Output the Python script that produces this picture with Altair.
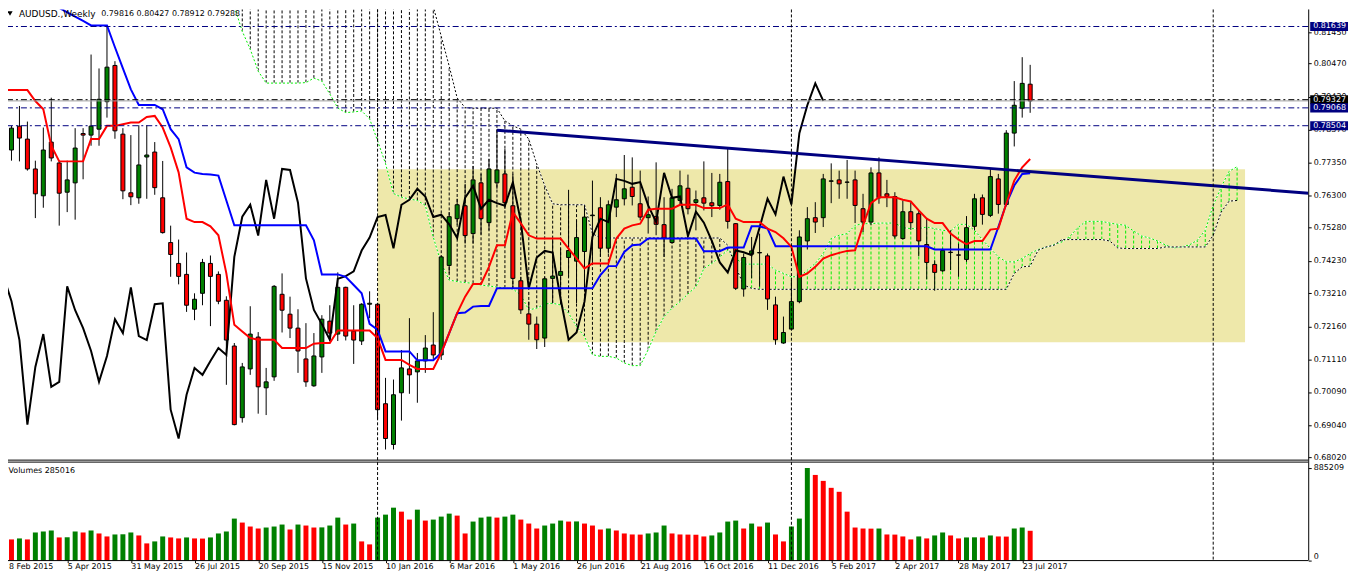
import altair as alt
import pandas as pd
import numpy as np

# ---------------- data (weekly AUDUSD, bar index 0 = 8 Feb 2015) ----------------
opens = [0.77493, 0.77736, 0.78490, 0.78081, 0.77138, 0.76289, 0.77987, 0.77327, 0.76403, 0.76698,
         0.78257, 0.78207, 0.78396, 0.79263, 0.80408, 0.78238, 0.76384, 0.76226, 0.77515, 0.77672,
         0.76226, 0.74812, 0.74152, 0.73806, 0.72705, 0.73208, 0.74152, 0.73806, 0.72988, 0.71542,
         0.69279, 0.70819, 0.71825, 0.70222, 0.70568, 0.73177, 0.72548, 0.72108, 0.71134, 0.70285,
         0.71197, 0.72328, 0.71920, 0.73397, 0.72014, 0.71700, 0.72863, 0.72863, 0.69719, 0.68430,
         0.70065, 0.70819, 0.70725, 0.71071, 0.71574, 0.71260, 0.74089, 0.75566, 0.75975, 0.75095,
         0.76698, 0.75441, 0.76698, 0.76981, 0.75975, 0.73605, 0.72558, 0.72234, 0.71794, 0.73680,
         0.73775, 0.74340, 0.74224, 0.74529, 0.75661, 0.75912, 0.74633, 0.75931, 0.76195, 0.76560,
         0.76038, 0.75598, 0.75639, 0.75378, 0.74812, 0.76142, 0.76528, 0.76079, 0.76226, 0.76069,
         0.75985, 0.76739, 0.75409, 0.73344, 0.74444, 0.74485, 0.74391, 0.72841, 0.71637, 0.72077,
         0.72945, 0.74862, 0.75598, 0.75598, 0.76748, 0.76792, 0.76717, 0.76792, 0.75881, 0.75459,
         0.77012, 0.76352, 0.76267, 0.74938, 0.75786, 0.75723, 0.74749, 0.74120, 0.73919, 0.74497,
         0.74422, 0.74278, 0.75324, 0.76226, 0.75670, 0.76824, 0.76016, 0.78270, 0.79056, 0.79816]
highs = [0.78446, 0.78499, 0.79128, 0.78635, 0.77399, 0.78446, 0.79389, 0.77399, 0.77399, 0.78427,
         0.78427, 0.80753, 0.80313, 0.81643, 0.80543, 0.78427, 0.78207, 0.78521, 0.78521, 0.77987,
         0.77390, 0.75346, 0.74906, 0.74497, 0.73208, 0.74296, 0.74403, 0.73900, 0.73114, 0.71637,
         0.71008, 0.72800, 0.71982, 0.70850, 0.73469, 0.73837, 0.73102, 0.72705, 0.72265, 0.71951,
         0.72517, 0.72831, 0.73869, 0.73416, 0.72831, 0.72894, 0.73271, 0.72904, 0.70536, 0.70483,
         0.71417, 0.72423, 0.71322, 0.71888, 0.72611, 0.74403, 0.75774, 0.76195, 0.76667, 0.77232,
         0.76981, 0.77453, 0.78396, 0.77767, 0.76981, 0.73730, 0.72945, 0.72473, 0.73730, 0.74938,
         0.74623, 0.76478, 0.75513, 0.75985, 0.76770, 0.76245, 0.76142, 0.76981, 0.77578, 0.77503,
         0.77085, 0.76267, 0.77346, 0.76245, 0.76510, 0.77085, 0.76959, 0.76456, 0.77377, 0.77012,
         0.76981, 0.77786, 0.75428, 0.74466, 0.74988, 0.75095, 0.74466, 0.73102, 0.72473, 0.73627,
         0.75199, 0.75931, 0.76088, 0.76981, 0.77314, 0.77085, 0.77421, 0.77085, 0.76352, 0.77188,
         0.77503, 0.76792, 0.76403, 0.76142, 0.76088, 0.75827, 0.75566, 0.74253, 0.74623, 0.75199,
         0.74780, 0.75648, 0.76352, 0.76330, 0.77138, 0.76981, 0.78364, 0.79914, 0.80669, 0.80427]
lows = [0.76456, 0.77399, 0.77377, 0.77085, 0.75585, 0.75912, 0.77377, 0.75346, 0.75774, 0.75535,
        0.76811, 0.77871, 0.77871, 0.78760, 0.78091, 0.76182, 0.75994, 0.76038, 0.76195, 0.76321,
        0.75095, 0.73730, 0.73491, 0.72621, 0.72360, 0.72831, 0.72171, 0.72863, 0.70316, 0.69037,
        0.69122, 0.70631, 0.69405, 0.69361, 0.70442, 0.71970, 0.71794, 0.70694, 0.70253, 0.70253,
        0.70694, 0.71700, 0.71700, 0.71718, 0.70977, 0.71574, 0.72423, 0.69226, 0.68273, 0.68273,
        0.69185, 0.70033, 0.69750, 0.70694, 0.71134, 0.71102, 0.73837, 0.75378, 0.74780, 0.74780,
        0.75063, 0.75198, 0.76510, 0.75881, 0.73366, 0.72558, 0.71740, 0.71448, 0.71511, 0.72894,
        0.72894, 0.73730, 0.72894, 0.73312, 0.74152, 0.74359, 0.74466, 0.75617, 0.75985, 0.75985,
        0.75513, 0.75095, 0.75042, 0.74359, 0.74780, 0.75985, 0.75702, 0.75198, 0.75827, 0.75617,
        0.75849, 0.75252, 0.73312, 0.73102, 0.73680, 0.73416, 0.72684, 0.71583, 0.71615, 0.72055,
        0.72894, 0.74592, 0.75114, 0.75302, 0.76057, 0.76195, 0.76195, 0.75428, 0.75145, 0.75356,
        0.76038, 0.75931, 0.74938, 0.74906, 0.75220, 0.74381, 0.73649, 0.73290, 0.73888, 0.73941,
        0.73730, 0.74202, 0.75199, 0.75378, 0.75617, 0.75724, 0.75963, 0.77849, 0.78760, 0.78912]
closes = [0.77713, 0.78427, 0.78113, 0.77138, 0.76352, 0.77736, 0.77484, 0.76371, 0.76792, 0.77798,
          0.78207, 0.78490, 0.79339, 0.80354, 0.78342, 0.76446, 0.76258, 0.77264, 0.77578, 0.76547,
          0.75126, 0.74435, 0.73743, 0.72831, 0.73020, 0.74183, 0.73743, 0.72957, 0.71731, 0.69059,
          0.70882, 0.71919, 0.70253, 0.70410, 0.73428, 0.72674, 0.72108, 0.71385, 0.70410, 0.71228,
          0.72391, 0.71951, 0.73397, 0.71857, 0.71731, 0.72863, 0.72894, 0.69530, 0.68619, 0.70002,
          0.70851, 0.70631, 0.71071, 0.71479, 0.71260, 0.74359, 0.75629, 0.76006, 0.75032, 0.76792,
          0.75566, 0.77138, 0.77107, 0.76069, 0.73680, 0.72684, 0.72234, 0.71740, 0.73667, 0.73752,
          0.73900, 0.74560, 0.74969, 0.75617, 0.75680, 0.74633, 0.76006, 0.76164, 0.76510, 0.76267,
          0.75617, 0.75692, 0.75387, 0.74956, 0.76226, 0.76604, 0.75881, 0.76164, 0.76057, 0.75975,
          0.76717, 0.75481, 0.73366, 0.74340, 0.74548, 0.74497, 0.73029, 0.71740, 0.71970, 0.72945,
          0.74988, 0.75566, 0.75459, 0.76824, 0.76761, 0.76667, 0.76723, 0.75985, 0.75459, 0.77012,
          0.76226, 0.76267, 0.75019, 0.75786, 0.75441, 0.74862, 0.74183, 0.73869, 0.74560, 0.74507,
          0.74413, 0.75283, 0.76195, 0.75702, 0.76896, 0.76016, 0.78270, 0.79150, 0.79842, 0.79288]
volumes = [221400, 202400, 211900, 202400, 268800, 278300, 287800, 221400, 223000, 278300,
           268800, 287800, 259300, 230800, 249800, 251500, 268800, 240300, 164400, 183400,
           230800, 221400, 211900, 221400, 211900, 210500, 221400, 259300, 278300, 401600,
           363600, 325700, 306700, 316200, 325700, 344700, 297300, 344700, 335200, 316200,
           317500, 335200, 411100, 344700, 354200, 183400, 154900, 411100, 439500, 506000,
           468000, 392100, 487000, 382600, 392100, 420600, 449000, 430100, 259300, 373200,
           411100, 420600, 411100, 420600, 439500, 392100, 354200, 306700, 335200, 354200,
           382600, 373200, 374500, 354200, 335200, 297300, 306700, 287800, 259300, 249800,
           248500, 259300, 268800, 335200, 259300, 249800, 248500, 247200, 230800, 240300,
           268800, 373200, 382600, 306700, 354200, 325700, 363600, 249800, 183400, 325700,
           401600, 885209, 819000, 762100, 695700, 657800, 468000, 316200, 306700, 305500,
           306500, 249800, 248500, 230800, 202400, 230800, 211900, 240300, 268800, 240300,
           211900, 221400, 222500, 221000, 240300, 230800, 229500, 306700, 316200, 285016]
tenkan = [0.79631, 0.79631, 0.79631, 0.79631, 0.79285, 0.79024, 0.77871, 0.77377, 0.77377, 0.77377,
          0.77377, 0.78081, 0.78081, 0.78499, 0.78499, 0.78553, 0.78603, 0.78603, 0.78782, 0.78814,
          0.78446, 0.77817, 0.77031, 0.75566, 0.75459, 0.75459, 0.75324, 0.75041, 0.73837, 0.72212,
          0.72001, 0.71794, 0.71740, 0.71740, 0.71740, 0.71479, 0.71479, 0.71479, 0.71479, 0.71615,
          0.71637, 0.71637, 0.72033, 0.72033, 0.72033, 0.72033, 0.72033, 0.71794, 0.71102, 0.71102,
          0.71102, 0.70945, 0.70819, 0.70819, 0.70819, 0.71322, 0.71951, 0.72580, 0.73102, 0.73501,
          0.73501, 0.74045, 0.74727, 0.74727, 0.75774, 0.75419, 0.75041, 0.74938, 0.74938, 0.74938,
          0.74938, 0.74623, 0.74309, 0.73994, 0.74152, 0.74152, 0.74152, 0.74938, 0.75252, 0.75356,
          0.75409, 0.75849, 0.75881, 0.75881, 0.75881, 0.76006, 0.76006, 0.76006, 0.75900, 0.75900,
          0.75900, 0.76016, 0.75566, 0.75459, 0.75459, 0.75459, 0.75252, 0.75145, 0.74947, 0.74673,
          0.73730, 0.73837, 0.74045, 0.74309, 0.74413, 0.74485, 0.74548, 0.74570, 0.75356, 0.76057,
          0.76245, 0.76245, 0.76245, 0.76164, 0.76110, 0.75827, 0.75566, 0.75428, 0.75428, 0.75095,
          0.74906, 0.74758, 0.74862, 0.74862, 0.75220, 0.75252, 0.76038, 0.76770, 0.77188, 0.77453]
kijun = [0.82901, 0.82901, 0.82901, 0.82901, 0.82901, 0.82586, 0.82366, 0.82228, 0.82089, 0.81951,
         0.81816, 0.81674, 0.81674, 0.81674, 0.80983, 0.80316, 0.79653, 0.79160, 0.79160, 0.79160,
         0.79024, 0.78396, 0.78081, 0.77188, 0.77022, 0.76981, 0.76959, 0.76928, 0.76142, 0.75356,
         0.75356, 0.75356, 0.75356, 0.75356, 0.75356, 0.75356, 0.75356, 0.75356, 0.75356, 0.74884,
         0.73806, 0.73806, 0.73806, 0.73730, 0.73469, 0.73208, 0.72243, 0.72055, 0.71372, 0.71372,
         0.71372, 0.71372, 0.71090, 0.71090, 0.71090, 0.71322, 0.71951, 0.72580, 0.72599, 0.72787,
         0.72809, 0.72809, 0.73366, 0.73366, 0.73366, 0.73366, 0.73366, 0.73366, 0.73366, 0.73366,
         0.73366, 0.73366, 0.73366, 0.73366, 0.73366, 0.73784, 0.74067, 0.74067, 0.74516, 0.74727,
         0.74749, 0.74938, 0.74938, 0.74938, 0.74938, 0.74938, 0.74938, 0.74938, 0.74538, 0.74538,
         0.74538, 0.74655, 0.74655, 0.74655, 0.75324, 0.75324, 0.75252, 0.74696, 0.74696, 0.74696,
         0.74696, 0.74696, 0.74696, 0.74696, 0.74696, 0.74696, 0.74696, 0.74696, 0.74696, 0.74696,
         0.74696, 0.74696, 0.74696, 0.74696, 0.74696, 0.74696, 0.74696, 0.74592, 0.74592, 0.74592,
         0.74592, 0.74592, 0.74592, 0.74592, 0.74592, 0.75302, 0.76038, 0.76613, 0.76981, 0.77000]
SPAN_START = 26  # senkou spans are drawn from bar 26 to bar 155
span_a = [0.83686, 0.83372, 0.82806, 0.82272, 0.81486, 0.80920, 0.80228, 0.79851, 0.79851, 0.79851,
          0.79851, 0.79851, 0.79867, 0.80008, 0.79914, 0.79505, 0.79065, 0.78917, 0.78939, 0.78971,
          0.78720, 0.78028, 0.77305, 0.76362, 0.76245, 0.76189, 0.76142, 0.75985, 0.74978, 0.74161,
          0.73627, 0.73580, 0.73548, 0.73523, 0.73469, 0.73438, 0.73407, 0.73375, 0.73344, 0.73155,
          0.72684, 0.72737, 0.72872, 0.72894, 0.72841, 0.72580, 0.72158, 0.71844, 0.71269, 0.71216,
          0.71216, 0.71165, 0.71008, 0.70923, 0.70923, 0.71426, 0.72001, 0.72473, 0.72737, 0.72945,
          0.73187, 0.73416, 0.73994, 0.74152, 0.74359, 0.74570, 0.74309, 0.74130, 0.74130, 0.74130,
          0.74130, 0.73941, 0.73837, 0.73730, 0.73730, 0.73941, 0.74152, 0.74466, 0.74938, 0.75041,
          0.75095, 0.75356, 0.75409, 0.75409, 0.75428, 0.75428, 0.75428, 0.75283, 0.75252, 0.75252,
          0.75302, 0.75252, 0.75199, 0.75177, 0.75387, 0.75387, 0.75199, 0.74906, 0.74623, 0.74359,
          0.74202, 0.74202, 0.74309, 0.74466, 0.74592, 0.74664, 0.74749, 0.74831, 0.75010, 0.75284,
          0.75481, 0.75481, 0.75481, 0.75428, 0.75387, 0.75356, 0.75176, 0.75019, 0.74956, 0.74862,
          0.74736, 0.74642, 0.74673, 0.74736, 0.74884, 0.75199, 0.75985, 0.76560, 0.77063, 0.77210]
span_b = [0.84500, 0.84500, 0.84500, 0.84500, 0.84500, 0.84500, 0.84500, 0.84500, 0.84500, 0.84500,
          0.84500, 0.84500, 0.84500, 0.84500, 0.84500, 0.84500, 0.84500, 0.84500, 0.84500, 0.84500,
          0.84500, 0.84500, 0.84500, 0.84500, 0.84500, 0.84500, 0.84500, 0.82901, 0.82272, 0.81329,
          0.80386, 0.79380, 0.79075, 0.79056, 0.79056, 0.79056, 0.79056, 0.78657, 0.78499, 0.78396,
          0.78081, 0.77295, 0.76613, 0.76038, 0.76006, 0.76006, 0.76006, 0.76006, 0.75095, 0.74956,
          0.74956, 0.74956, 0.74956, 0.74956, 0.74956, 0.74956, 0.74956, 0.74956, 0.74956, 0.74956,
          0.74956, 0.74956, 0.74956, 0.74956, 0.74956, 0.74727, 0.74045, 0.73469, 0.73366, 0.73334,
          0.73334, 0.73334, 0.73334, 0.73334, 0.73334, 0.73334, 0.73334, 0.73334, 0.73334, 0.73334,
          0.73334, 0.73334, 0.73334, 0.73334, 0.73334, 0.73334, 0.73334, 0.73334, 0.73334, 0.73334,
          0.73334, 0.73334, 0.73334, 0.73334, 0.73334, 0.73334, 0.73334, 0.73334, 0.73334, 0.73334,
          0.73334, 0.73837, 0.74045, 0.74067, 0.74570, 0.74673, 0.74727, 0.74906, 0.74906, 0.74906,
          0.74906, 0.74906, 0.74906, 0.74862, 0.74642, 0.74623, 0.74623, 0.74623, 0.74623, 0.74623,
          0.74673, 0.74673, 0.74673, 0.74673, 0.74673, 0.74673, 0.75041, 0.75774, 0.76120, 0.76142]

levels = [0.81639, 0.79327, 0.79068, 0.78504]
level_colors = ["#000080", "#000000", "#000080", "#000080"]
bid_price = 0.79288
trend_bars = [62, 164]
trend_prices = [0.78364, 0.76371]
zone_bars = [47, 156]
zone_prices = [0.77132, 0.71662]
vline_bars = [47, 99, 152]
price_ticks = [0.81450, 0.80470, 0.79420, 0.78370, 0.77350, 0.76300, 0.75280, 0.74230,
               0.73210, 0.72160, 0.71110, 0.70090, 0.69040, 0.68020]
date_ticks = [0, 8, 16, 24, 32, 40, 48, 56, 64, 72, 80, 88, 96, 104, 112, 120, 128]
vol_ticks = [0, 885209]
PRICE_DOMAIN = [0.67937, 0.82366]
VOL_DOMAIN = [0, 941700]
BAR_DOMAIN = [0, 164]

# ---------------- frames ----------------
n = len(closes)
idx = list(range(n))
cdf = pd.DataFrame({"i": idx, "o": opens, "h": highs, "l": lows, "c": closes})
cdf["fill"] = np.where(cdf["c"] >= cdf["o"], "#008000", "#FF0000")
ldf = pd.DataFrame({"i": idx, "tenkan": tenkan, "kijun": kijun})
chik = pd.DataFrame({"i": list(range(n - 26)), "v": closes[26:]})
sdf = pd.DataFrame({"i": list(range(SPAN_START, SPAN_START + len(span_a))), "a": span_a, "b": span_b})
sdf["lo"] = sdf[["a", "b"]].min(axis=1)
sdf["hi"] = sdf[["a", "b"]].max(axis=1)
sdf["col"] = np.where(sdf["a"] >= sdf["b"], "#00EE00", "#000000")
hdf = pd.DataFrame({"p": levels, "col": level_colors, "txt": [f"{v:.5f}" for v in levels]})
bdf = pd.DataFrame({"p": [bid_price]})
tdf = pd.DataFrame({"i": trend_bars, "p": trend_prices})
zdf = pd.DataFrame({"i": [zone_bars[0]], "i2": [zone_bars[1]], "p": [zone_prices[0]], "p2": [zone_prices[1]]})
vldf = pd.DataFrame({"i": vline_bars})
vdf = pd.DataFrame({"i": idx, "v": volumes})
prev = [volumes[0] + 1] + volumes[:-1]
vdf["fill"] = np.where(np.array(volumes) > np.array(prev), "#008000", "#FF0000")

FONT = "DejaVu Sans"
W, H = 1307, 554          # plot origin sits at the page's 8px margin
XS = alt.Scale(domain=BAR_DOMAIN, range=[-4.5, 1307.5], nice=False, zero=False, padding=0)
YS = alt.Scale(domain=PRICE_DOMAIN, range=[453, -6], nice=False, zero=False, padding=0)
VS = alt.Scale(domain=VOL_DOMAIN, range=[554, 455], nice=False, zero=False, padding=0)
xaxis = alt.Axis(values=date_ticks, title=None, grid=False, domain=False, tickSize=2, labelPadding=0,
                 labelAlign="left", labelFlush=False, labelOverlap=False, labelFont=FONT, labelFontSize=8,
                 labelColor="black", tickColor="black",
                 labelOffset={"condition": {"test": "datum.value == 0", "value": 5}, "value": 0},
                 labelExpr="utcFormat(utc(2015, 1, 8) + datum.value * 604800000, '%-d %b %Y')")
yaxis = alt.Axis(orient="right", values=price_ticks, format=".5f", title=None, grid=False,
                 domain=False, tickSize=3, labelPadding=2, labelFont=FONT, labelFontSize=8,
                 labelColor="black", tickColor="black")
vaxis = alt.Axis(orient="right", values=vol_ticks, format="d", title=None, grid=False, domain=False,
                 tickSize=3, labelPadding=2, labelFont=FONT, labelFontSize=8, labelColor="black",
                 tickColor="black",
                 labelBaseline={"condition": {"test": "datum.value == 0", "value": "bottom"}, "value": "middle"})


def X(f="i"):
    return alt.X(f"{f}:Q", scale=XS, axis=xaxis)


def Y(f):
    return alt.Y(f"{f}:Q", scale=YS, axis=yaxis)


def V(f):
    return alt.Y(f"{f}:Q", scale=VS, axis=vaxis)


# ---------------- price pane ----------------
zone = alt.Chart(zdf).mark_rect(color="#EEE8AA").encode(x=X(), x2="i2", y=Y("p"), y2="p2")
hatch = alt.Chart(sdf).mark_rule(strokeWidth=1, strokeDash=[3, 2], clip=True).encode(
    x=X(), y=Y("lo"), y2="hi", color=alt.Color("col:N", scale=None))
span_a_bg = alt.Chart(sdf).mark_line(color="white", strokeWidth=1, clip=True).encode(x=X(), y=Y("a"))
span_a_ln = alt.Chart(sdf).mark_line(color="#00EE00", strokeWidth=1, strokeDash=[2, 2], clip=True).encode(x=X(), y=Y("a"))
span_b_bg = alt.Chart(sdf).mark_line(color="white", strokeWidth=1, clip=True).encode(x=X(), y=Y("b"))
span_b_ln = alt.Chart(sdf).mark_line(color="black", strokeWidth=1, strokeDash=[2, 2], clip=True).encode(x=X(), y=Y("b"))
wick = alt.Chart(cdf).mark_rule(color="black", strokeWidth=1, clip=True).encode(x=X(), y=Y("l"), y2="h")
body = alt.Chart(cdf).mark_bar(size=4, stroke="black", strokeWidth=1, clip=True).encode(
    x=X(), y=Y("o"), y2="c", color=alt.Color("fill:N", scale=None))
chikou = alt.Chart(chik).mark_line(color="black", strokeWidth=2, clip=True).encode(x=X(), y=Y("v"))
kij = alt.Chart(ldf).mark_line(color="#0000FF", strokeWidth=2, clip=True).encode(x=X(), y=Y("kijun"))
ten = alt.Chart(ldf).mark_line(color="#FF0000", strokeWidth=2, clip=True).encode(x=X(), y=Y("tenkan"))
bidline = alt.Chart(bdf).mark_rule(color="#A0A0A0", strokeWidth=1).encode(y=Y("p"))
hlines = alt.Chart(hdf).mark_rule(strokeWidth=1, strokeDash=[6, 3, 2, 3]).encode(
    y=Y("p"), color=alt.Color("col:N", scale=None))
trend = alt.Chart(tdf).mark_line(color="#000080", strokeWidth=3, clip=True).encode(x=X(), y=Y("p"))
pane_bottom = alt.Chart(pd.DataFrame({"p": [PRICE_DOMAIN[0]]})).mark_rule(color="black", strokeWidth=1).encode(y=Y("p"))
box_path = "M-1,-0.24L1,-0.24L1,0.24L-1,0.24Z"
boxes = alt.Chart(hdf).mark_point(shape=box_path, size=1444, filled=True, opacity=1, strokeWidth=0).encode(
    x=alt.value(1328), y=Y("p"), color=alt.Color("col:N", scale=None))
box_txt = alt.Chart(hdf).mark_text(align="left", baseline="middle", font=FONT, fontSize=8, color="white").encode(
    x=alt.value(1312), y=Y("p"), text="txt:N")
tri = alt.Chart(pd.DataFrame({"k": [1]})).mark_point(shape="triangle-down", filled=True, size=28,
                                                      color="black", opacity=1).encode(
    x=alt.value(2), y=alt.value(4))
name_txt = alt.Chart(pd.DataFrame({"t": ["AUDUSD.,Weekly"]})).mark_text(
    align="left", baseline="middle", font=FONT, fontSize=9, color="black").encode(
    x=alt.value(11), y=alt.value(4.5), text="t:N")
ohlc_txt = alt.Chart(pd.DataFrame({"t": [f"{opens[-1]:.5f} {highs[-1]:.5f} {lows[-1]:.5f} {closes[-1]:.5f}"]})).mark_text(
    align="left", baseline="middle", font=FONT, fontSize=8, color="black").encode(
    x=alt.value(93.7), y=alt.value(4.5), text="t:N")

price_pane = alt.layer(zone, hatch, span_a_bg, span_a_ln, span_b_bg, span_b_ln, wick, body,
                       chikou, kij, ten, bidline, hlines, trend, pane_bottom, boxes, box_txt,
                       tri, name_txt, ohlc_txt)

# ---------------- volume pane ----------------
vbars = alt.Chart(vdf).mark_bar(size=5).encode(
    x=X(), y=V("v"), y2=alt.Y2(datum=0), color=alt.Color("fill:N", scale=None))
vol_edges = alt.Chart(pd.DataFrame({"v": VOL_DOMAIN})).mark_rule(color="black", strokeWidth=1).encode(y=V("v"))
vol_txt = alt.Chart(pd.DataFrame({"t": [f"Volumes {volumes[-1]}"]})).mark_text(
    align="left", baseline="middle", font=FONT, fontSize=8, color="black").encode(
    x=alt.value(0.5), y=alt.value(464.3), text="t:N")
vol_pane = alt.layer(vbars, vol_edges, vol_txt)

# vertical dashed lines through both panes, right frame edge
vlines = alt.Chart(vldf).mark_rule(color="black", strokeWidth=1, strokeDash=[3, 2]).encode(x=X())
right_edge = alt.Chart(pd.DataFrame({"i": [BAR_DOMAIN[1]]})).mark_rule(color="black", strokeWidth=1).encode(x=X())

chart = alt.layer(price_pane, vol_pane, vlines, right_edge).resolve_scale(y="independent").properties(
    width=W, height=H,
    autosize=alt.AutoSizeParams(type="none"),
    padding={"left": 0, "top": 0, "right": 42, "bottom": 10},
    background="white",
).configure_view(stroke="transparent", strokeWidth=0)

chart.save("out.html", embed_options={"renderer": "svg", "actions": False})
